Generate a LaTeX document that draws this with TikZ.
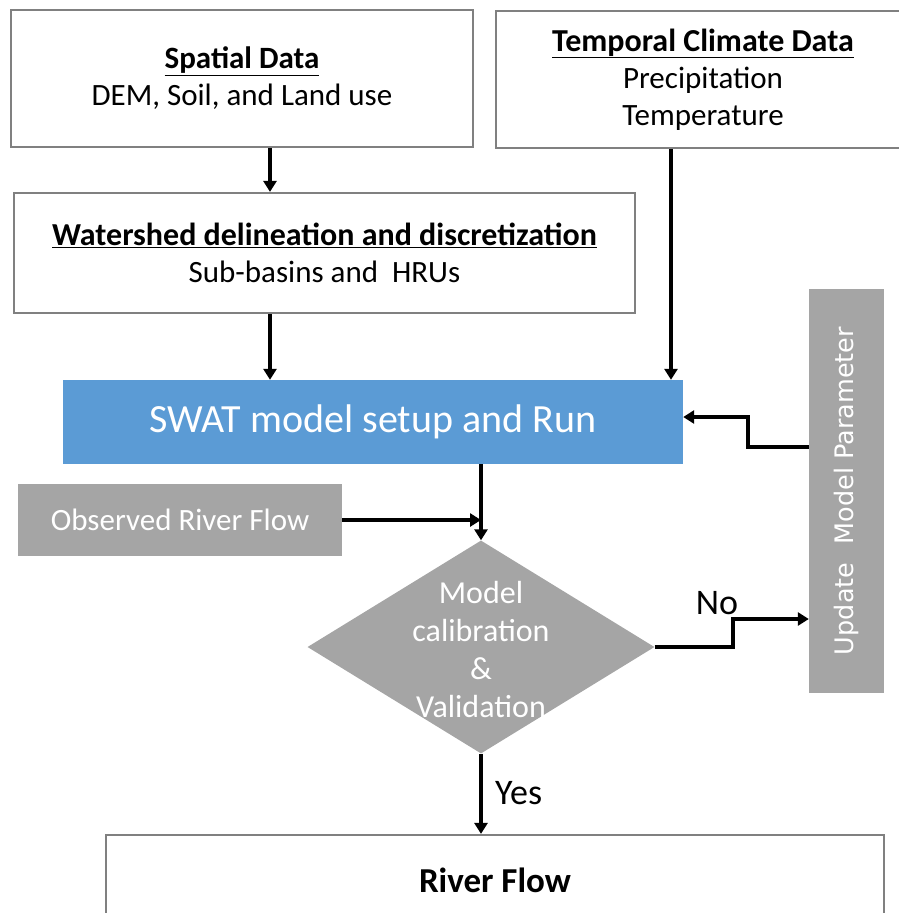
\documentclass[tikz,border=0pt]{standalone}
\usepackage{fontspec}
\setmainfont{Carlito}
\newfontfamily\dejavu{DejaVu Sans}
\usetikzlibrary{arrows.meta,shapes.geometric}
\definecolor{swatblue}{HTML}{5B9BD5}
\definecolor{boxgray}{HTML}{A5A5A5}
\definecolor{edgegray}{HTML}{808080}
\begin{document}
\begin{tikzpicture}[x=1pt,y=-1pt,
  whitebox/.style={draw=edgegray, line width=2.2pt, fill=white, inner sep=0pt, align=center, font=\fontsize{31}{37}\selectfont},
  graybox/.style={fill=boxgray, inner sep=0pt, text=white, align=center},
  arr/.style={line width=3.2pt, -{Triangle[length=11pt,width=13pt]}},
  lbl/.style={font=\fontsize{36}{40}\selectfont, inner sep=0pt}]
\useasboundingbox (0,0) rectangle (898,913);
% boxes
\node[whitebox, minimum width=462pt, minimum height=137pt] (spatial) at (242,78.5)
  {\underline{\textbf{\fontsize{31}{37}\selectfont Spatial Data}}\\DEM, Soil, and Land use};
\node[whitebox, minimum width=414pt, minimum height=137pt] (temporal) at (703,79.5)
  {\underline{\textbf{\fontsize{32}{37}\selectfont Temporal Climate Data}}\\Precipitation\\Temperature};
\node[whitebox, minimum width=621pt, minimum height=120pt] (ws) at (324.5,253)
  {\underline{\textbf{\fontsize{32}{37}\selectfont Watershed delineation and discretization}}\\Sub-basins and \ HRUs};
\node[graybox, minimum width=620pt, minimum height=84pt, fill=swatblue, font=\fontsize{40}{44}\selectfont] (swat) at (373,422)
  {SWAT model setup and Run};
\node[graybox, minimum width=324pt, minimum height=72pt, font=\fontsize{31}{36}\selectfont] (obs) at (180,520)
  {Observed River Flow};
\node[graybox, minimum width=75pt, minimum height=404pt, font=\dejavu\fontsize{25.5}{30}\selectfont] (upd) at (846.5,491)
  {\rotatebox{90}{Update\hspace{0.4em} Model Parameter}};
\node[diamond, fill=boxgray, minimum width=347pt, minimum height=213pt, inner sep=0pt] (dia) at (481,647) {};
\node[text=white, align=center, inner sep=0pt, font=\fontsize{32}{38}\selectfont] (diatext) at (481,649)
  {Model\\calibration\\\&\\Validation};
\node[whitebox, minimum width=778pt, minimum height=90pt] (rf) at (495,880) {\textbf{\fontsize{35}{40}\selectfont River Flow}};
% helper coordinates
\coordinate (cx1) at (270,0);
\coordinate (cx2) at (671,0);
\coordinate (cno) at (733,619);
\coordinate (cup1) at (748,447);
\coordinate (cup2) at (748,417);
% connectors
\draw[arr] (spatial.south -| cx1) -- (ws.north -| cx1);
\draw[arr] (ws.south -| cx1) -- (swat.north -| cx1);
\draw[arr] (temporal.south -| cx2) -- (swat.north -| cx2);
\draw[arr] (swat.south -| dia.north) -- (dia.north);
\draw[arr] (obs.east) -- (obs.east -| dia.north);
\draw[arr] (dia.east) -- (dia.east -| cno) -- (cno) -- (cno -| upd.west);
\draw[arr] (upd.west |- cup1) -- (cup1) -- (cup2) -- (cup2 -| swat.east);
\draw[arr] (dia.south) -- (rf.north -| dia.south);
% labels
\node[lbl] (no) at (717,603) {No};
\node[lbl, anchor=west] (yes) at (495,793) {Yes};
\end{tikzpicture}
\end{document}
